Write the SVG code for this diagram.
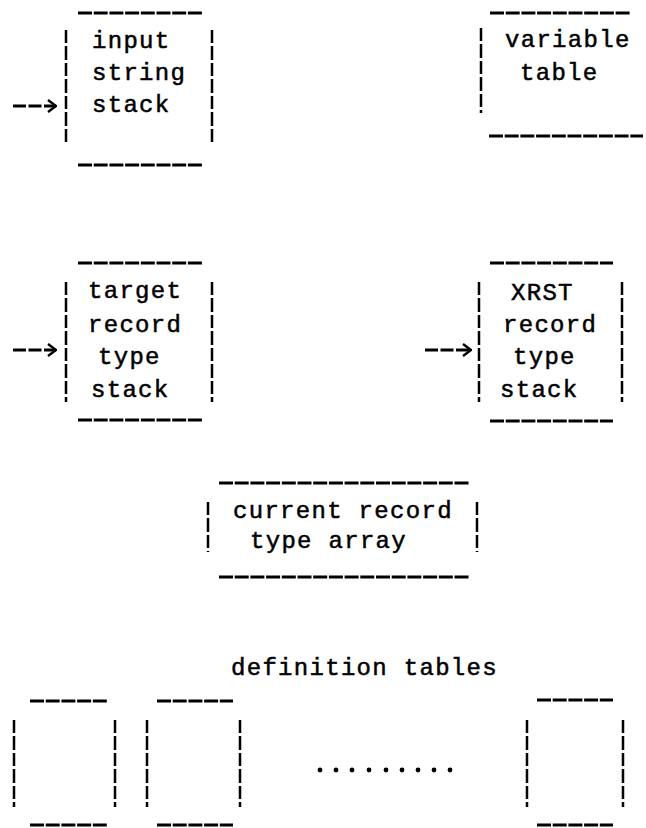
<svg xmlns="http://www.w3.org/2000/svg" width="646" height="828" viewBox="0 0 646 828">
  <style>
    .t { font-family: "Liberation Mono", "DejaVu Sans Mono", monospace; font-size: 24px; letter-spacing: 1.3px; fill: #000; stroke: #000; stroke-width: 0.5px; }
    .h { stroke: #000; stroke-width: 3; stroke-dasharray: 14 1.7; fill: none; }
    .v { stroke: #000; stroke-width: 2.5; stroke-dasharray: 13 3 14 3; fill: none; }
    .a { stroke: #000; stroke-width: 2.8; stroke-dasharray: 13 2.5; fill: none; }
  </style>
  <defs>
    <marker id="chev" viewBox="0 0 10 14" refX="9" refY="7" markerWidth="10" markerHeight="14" markerUnits="userSpaceOnUse" orient="auto">
      <path d="M1,1 L9,7 L1,13" fill="none" stroke="#000" stroke-width="2.4"/>
    </marker>
  </defs>
  <rect width="646" height="828" fill="#fff"/>

  <!-- input string stack -->
  <g id="input-string-stack">
    <line class="h" x1="78" y1="13" x2="203" y2="13"/>
    <line class="v" x1="66" y1="30" x2="66" y2="143"/>
    <line class="v" x1="212" y1="30" x2="212" y2="143"/>
    <text class="t" x="92" y="48">input</text>
    <text class="t" x="92" y="80">string</text>
    <text class="t" x="92" y="112">stack</text>
    <line class="h" x1="78" y1="165" x2="203" y2="165"/>
  </g>

  <!-- variable table -->
  <g id="variable-table">
    <line class="h" x1="490" y1="13" x2="630" y2="13"/>
    <line class="v" x1="481" y1="28" x2="481" y2="113"/>
    <text class="t" x="505" y="47">variable</text>
    <text class="t" x="520" y="80">table</text>
    <line class="h" x1="489" y1="136" x2="643" y2="136"/>
  </g>

  <!-- target record type stack -->
  <g id="target-record-type-stack">
    <line class="h" x1="78" y1="263" x2="203" y2="263"/>
    <line class="v" x1="66" y1="282" x2="66" y2="402"/>
    <line class="v" x1="212" y1="282" x2="212" y2="402"/>
    <text class="t" x="88" y="298">target</text>
    <text class="t" x="88" y="332">record</text>
    <text class="t" x="98" y="364">type</text>
    <text class="t" x="91" y="397">stack</text>
    <line class="h" x1="78" y1="420" x2="203" y2="420"/>
  </g>

  <!-- XRST record type stack -->
  <g id="xrst-record-type-stack">
    <line class="h" x1="490" y1="263" x2="613" y2="263"/>
    <line class="v" x1="479" y1="282" x2="479" y2="402"/>
    <line class="v" x1="622" y1="282" x2="622" y2="402"/>
    <text class="t" x="511" y="300">XRST</text>
    <text class="t" x="503" y="332">record</text>
    <text class="t" x="513" y="364">type</text>
    <text class="t" x="500" y="397">stack</text>
    <line class="h" x1="490" y1="421" x2="613" y2="421"/>
  </g>

  <!-- current record type array -->
  <g id="current-record-type-array">
    <line class="h" x1="219" y1="483" x2="470" y2="483"/>
    <line class="v" x1="208" y1="502" x2="208" y2="552"/>
    <line class="v" x1="477" y1="502" x2="477" y2="552"/>
    <text class="t" x="233" y="518">current record</text>
    <text class="t" x="250" y="548">type array</text>
    <line class="h" x1="219" y1="577" x2="470" y2="577"/>
  </g>

  <!-- definition tables -->
  <g id="definition-tables">
    <text class="t" x="231" y="675">definition tables</text>
    <line class="h" x1="30" y1="701" x2="107" y2="701"/>
    <line class="v" x1="14" y1="720" x2="14" y2="807"/>
    <line class="v" x1="115" y1="720" x2="115" y2="807"/>
    <line class="h" x1="30" y1="825" x2="107" y2="825"/>

    <line class="h" x1="157" y1="701" x2="233" y2="701"/>
    <line class="v" x1="147" y1="720" x2="147" y2="807"/>
    <line class="v" x1="240" y1="720" x2="240" y2="807"/>
    <line class="h" x1="157" y1="825" x2="233" y2="825"/>

    <g fill="#000">
      <circle cx="320" cy="770" r="2.4"/>
      <circle cx="336" cy="770" r="2.4"/>
      <circle cx="352" cy="770" r="2.4"/>
      <circle cx="369" cy="770" r="2.4"/>
      <circle cx="386" cy="770" r="2.4"/>
      <circle cx="402" cy="770" r="2.4"/>
      <circle cx="418" cy="770" r="2.4"/>
      <circle cx="434" cy="770" r="2.4"/>
      <circle cx="450" cy="770" r="2.4"/>
    </g>

    <line class="h" x1="537" y1="700" x2="613" y2="700"/>
    <line class="v" x1="527" y1="720" x2="527" y2="807"/>
    <line class="v" x1="623" y1="720" x2="623" y2="807"/>
    <line class="h" x1="537" y1="825" x2="613" y2="825"/>
  </g>

  <!-- pointers into the stacks -->
  <g id="connectors">
    <line class="a" x1="13" y1="106" x2="56" y2="106" marker-end="url(#chev)"/>
    <line class="a" x1="13" y1="350" x2="56" y2="350" marker-end="url(#chev)"/>
    <line class="a" x1="425" y1="350" x2="471" y2="350" marker-end="url(#chev)"/>
  </g>
</svg>
